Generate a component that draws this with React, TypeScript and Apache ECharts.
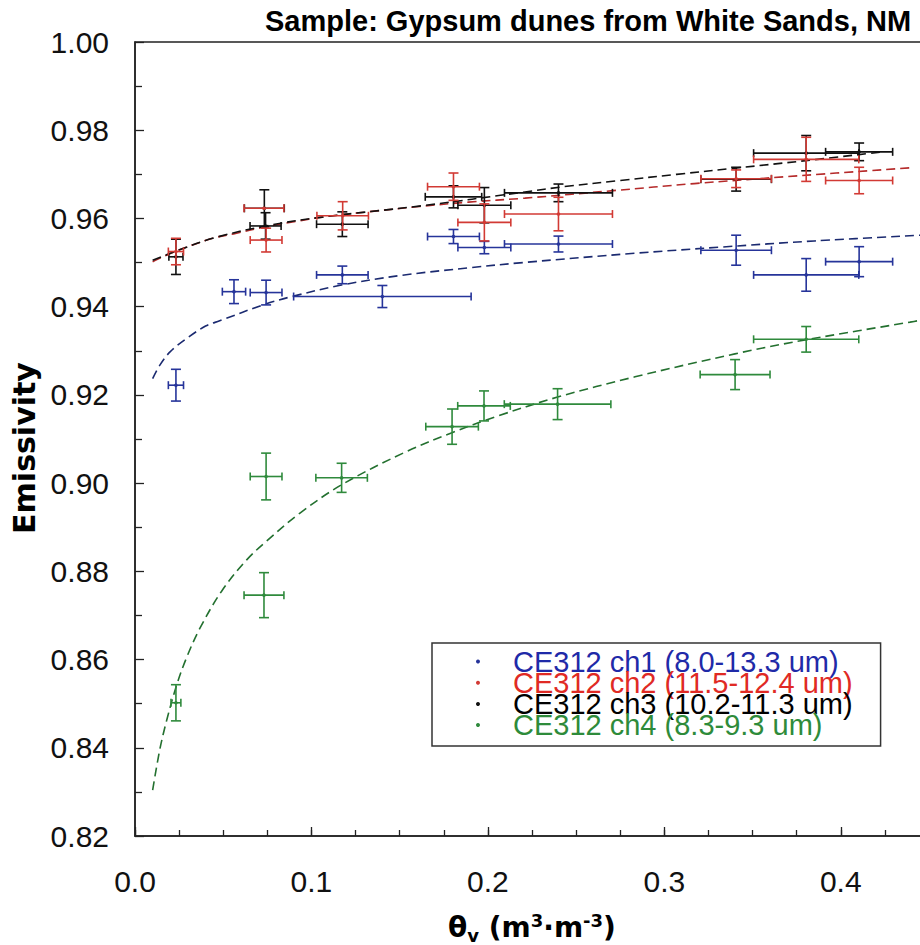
import React, { useEffect, useRef } from "react";
import * as echarts from "echarts";

const seriesNames = [
  "CE312 ch1 (8.0-13.3 um)",
  "CE312 ch2 (11.5-12.4 um)",
  "CE312 ch3 (10.2-11.3 um)",
  "CE312 ch4 (8.3-9.3 um)",
];
const seriesColors = ["#26349a", "#d23a34", "#111111", "#2f8a3c"];
const legendTextColors = ["#1f2aa8", "#e02a24", "#000000", "#2e8b3a"];
const fitColors = ["#1b2a70", "#b52a2a", "#111111", "#23702f"];

// [theta_v, emissivity, x error, y error]
const ch1Points = [
  [0.0232, 0.9222, 0.0043, 0.0036],
  [0.0561, 0.9434, 0.0066, 0.0027],
  [0.0743, 0.9432, 0.009, 0.0028],
  [0.1175, 0.9472, 0.0146, 0.002],
  [0.1402, 0.9423, 0.0503, 0.0025],
  [0.1805, 0.9559, 0.0147, 0.0016],
  [0.198, 0.9534, 0.015, 0.0014],
  [0.24, 0.9542, 0.0306, 0.0018],
  [0.3407, 0.9528, 0.02, 0.0034],
  [0.3804, 0.9472, 0.0298, 0.0037],
  [0.4104, 0.9502, 0.019, 0.0034],
];
const ch2Points = [
  [0.0232, 0.9525, 0.0043, 0.003],
  [0.0731, 0.9623, 0.0113, 0.0],
  [0.0743, 0.9551, 0.009, 0.0027],
  [0.1177, 0.9606, 0.0146, 0.0032],
  [0.1805, 0.9672, 0.0147, 0.0031],
  [0.198, 0.9591, 0.015, 0.0042],
  [0.24, 0.961, 0.0306, 0.0038],
  [0.3407, 0.969, 0.02, 0.002],
  [0.3804, 0.9734, 0.0298, 0.005],
  [0.4104, 0.9686, 0.019, 0.003],
];
const ch3Points = [
  [0.0232, 0.9513, 0.004, 0.004],
  [0.0733, 0.9623, 0.0113, 0.0042],
  [0.074, 0.9583, 0.0088, 0.003],
  [0.1175, 0.9587, 0.0146, 0.0028],
  [0.1805, 0.9649, 0.016, 0.0025],
  [0.198, 0.963, 0.015, 0.004],
  [0.24, 0.9658, 0.0306, 0.002],
  [0.3407, 0.9689, 0.02, 0.0027],
  [0.3804, 0.9748, 0.0298, 0.004],
  [0.4104, 0.9751, 0.019, 0.002],
];
const ch4Points = [
  [0.0232, 0.8502, 0.0028, 0.0041],
  [0.0731, 0.8746, 0.0113, 0.0051],
  [0.0743, 0.9015, 0.009, 0.0053],
  [0.1171, 0.9012, 0.0146, 0.0033],
  [0.1797, 0.9128, 0.0149, 0.004],
  [0.1978, 0.9175, 0.0149, 0.0034],
  [0.2395, 0.9179, 0.0302, 0.0035],
  [0.3401, 0.9246, 0.0198, 0.0034],
  [0.3804, 0.9326, 0.0298, 0.0029],
];

// fitted curves
const ch1Fit = [
  [0.01, 0.9237], [0.014, 0.9267], [0.02, 0.9298], [0.03, 0.933], [0.04, 0.9356],
  [0.048, 0.9368], [0.074, 0.9406], [0.089, 0.9423], [0.117, 0.9449], [0.151, 0.9471],
  [0.189, 0.9488], [0.22, 0.95], [0.283, 0.9521], [0.332, 0.9535], [0.385, 0.9549],
  [0.445, 0.9562],
];
const ch2Fit = [
  [0.01, 0.9502], [0.024, 0.9527], [0.044, 0.9555], [0.057, 0.9566], [0.074, 0.9581],
  [0.091, 0.9593], [0.106, 0.9603], [0.132, 0.9615], [0.161, 0.9627], [0.189, 0.9637],
  [0.221, 0.9646], [0.271, 0.9663], [0.317, 0.9679], [0.37, 0.9695], [0.44, 0.9715],
];
const ch3Fit = [
  [0.01, 0.9505], [0.024, 0.9527], [0.044, 0.9555], [0.074, 0.9583], [0.106, 0.9603],
  [0.161, 0.9628], [0.221, 0.966], [0.243, 0.9672], [0.275, 0.9686], [0.307, 0.97],
  [0.34, 0.9714], [0.38, 0.9731], [0.424, 0.9751],
];
const ch4Fit = [
  [0.01, 0.8304], [0.014, 0.8395], [0.018, 0.8463], [0.0236, 0.8542], [0.0293, 0.8605],
  [0.0368, 0.8671], [0.0491, 0.8755], [0.0633, 0.8826], [0.0747, 0.8869], [0.0935, 0.8932],
  [0.117, 0.8996], [0.153, 0.907], [0.18, 0.9115], [0.204, 0.915], [0.2395, 0.9195],
  [0.2834, 0.9241], [0.34, 0.9293], [0.379, 0.9324], [0.4393, 0.9365], [0.445, 0.9369],
];

const pointSets = [ch1Points, ch2Points, ch3Points, ch4Points];
const fitSets = [ch1Fit, ch2Fit, ch3Fit, ch4Fit];

const titleText = "Sample: Gypsum dunes from White Sands, NM";
const yAxisTitle = "Emissivity";
const xAxisTitle = "{a|θ}{sub|v}{a| (m}{sup|3}{a|·m}{sup|-3}{a|)}";

function makeRender(color: string) {
  return (params: any, api: any) => {
    const x = api.value(0);
    const y = api.value(1);
    const xe = api.value(2);
    const ye = api.value(3);
    const c = api.coord([x, y]);
    const l = api.coord([x - xe, y]);
    const r = api.coord([x + xe, y]);
    const t = api.coord([x, y + ye]);
    const b = api.coord([x, y - ye]);
    const style = { stroke: color, lineWidth: 1.6, fill: "none" };
    const children: any[] = [];
    if (xe > 0) {
      children.push({ type: "line", shape: { x1: l[0], y1: c[1], x2: r[0], y2: c[1] }, style });
      children.push({ type: "line", shape: { x1: l[0], y1: c[1] - 4, x2: l[0], y2: c[1] + 4 }, style });
      children.push({ type: "line", shape: { x1: r[0], y1: c[1] - 4, x2: r[0], y2: c[1] + 4 }, style });
    }
    if (ye > 0) {
      children.push({ type: "line", shape: { x1: c[0], y1: t[1], x2: c[0], y2: b[1] }, style });
      children.push({ type: "line", shape: { x1: c[0] - 5, y1: t[1], x2: c[0] + 5, y2: t[1] }, style });
      children.push({ type: "line", shape: { x1: c[0] - 5, y1: b[1], x2: c[0] + 5, y2: b[1] }, style });
    }
    children.push({ type: "circle", shape: { cx: c[0], cy: c[1], r: 1.8 }, style: { fill: color } });
    return { type: "group", children };
  };
}

export default function App() {
  const ref = useRef<HTMLDivElement>(null);
  useEffect(() => {
    const chart = echarts.init(ref.current!, null, { renderer: "svg" });
    const axisColor = "#222";
    const drawOrder = [0, 2, 1, 3];
    const fitSeries = fitSets.map((d, i) => ({
      type: "line",
      name: "fit" + (i + 1),
      data: d,
      smooth: 0.35,
      symbol: "none",
      silent: true,
      z: 2,
      lineStyle: { type: [9, 5], width: 1.6, color: fitColors[i] },
    }));
    const pointSeries = drawOrder.map((i, k) => ({
      type: "custom",
      name: seriesNames[i],
      data: pointSets[i],
      encode: { x: 0, y: 1 },
      renderItem: makeRender(seriesColors[i]),
      itemStyle: { color: seriesColors[i] },
      z: 3 + k,
    }));
    chart.setOption({
      animation: false,
      backgroundColor: "#fff",
      title: {
        text: titleText,
        left: 265,
        top: 6,
        padding: 0,
        textStyle: { fontFamily: "Liberation Sans", fontWeight: "bold", fontSize: 29, color: "#000" },
      },
      legend: {
        orient: "vertical",
        left: 432,
        top: 643,
        padding: [4, 28, 6.5, 44],
        itemGap: -7.8,
        itemWidth: 60,
        itemHeight: 4,
        icon: "circle",
        borderColor: "#333",
        borderWidth: 1.5,
        backgroundColor: "#fff",
        selectedMode: false,
        textStyle: { fontFamily: "Liberation Sans", fontSize: 29 },
        data: seriesNames.map((n, i) => ({
          name: n,
          itemStyle: { color: seriesColors[i] },
          textStyle: { color: legendTextColors[i] },
        })),
      },
      grid: {
        left: 135,
        right: 0,
        top: 42,
        bottom: 109,
        outerBoundsMode: "none",
        containLabel: false,
        show: true,
        borderColor: axisColor,
        borderWidth: 1.5,
        backgroundColor: "transparent",
      },
      xAxis: [
        {
          type: "value",
          min: 0,
          max: 0.45,
          interval: 0.1,
          position: "bottom",
          axisLine: { show: true, lineStyle: { color: axisColor, width: 1.5 } },
          axisTick: { show: true, inside: true, length: 9, lineStyle: { color: axisColor, width: 1.3 } },
          splitLine: { show: false },
          axisLabel: {
            fontFamily: "Liberation Sans",
            fontSize: 30,
            color: "#111",
            margin: 30,
            showMaxLabel: false,
            formatter: (v: number) => (Math.abs(v * 10 - Math.round(v * 10)) < 1e-6 ? v.toFixed(1) : ""),
          },
          name: xAxisTitle,
          nameLocation: "middle",
          nameGap: 75,
          nameTextStyle: {
            lineHeight: 33,
            rich: {
              a: { fontFamily: "DejaVu Sans", fontWeight: "bold", fontSize: 28, color: "#000" },
              sub: { fontFamily: "DejaVu Sans", fontWeight: "bold", fontSize: 18, color: "#000", verticalAlign: "bottom" },
              sup: { fontFamily: "DejaVu Sans", fontWeight: "bold", fontSize: 18, color: "#000", verticalAlign: "top" },
            },
          },
        },
        {
          type: "value",
          min: 0,
          max: 0.45,
          interval: 0.025,
          position: "bottom",
          axisLine: { show: false },
          axisTick: { show: true, inside: true, length: 6, lineStyle: { color: axisColor, width: 1.3 } },
          axisLabel: { show: false },
          splitLine: { show: false },
        },
      ],
      yAxis: {
        type: "value",
        min: 0.82,
        max: 1.0,
        interval: 0.02,
        axisLine: { show: true, lineStyle: { color: axisColor, width: 1.5 } },
        axisTick: { show: true, inside: true, length: 9, lineStyle: { color: axisColor, width: 1.3 } },
        minorTick: { show: true, splitNumber: 2, length: 7, lineStyle: { color: axisColor, width: 1.3 } },
        splitLine: { show: false },
        axisLabel: {
          fontFamily: "Liberation Sans",
          fontSize: 30,
          color: "#111",
          margin: 26,
          formatter: (v: number) => v.toFixed(2),
        },
        name: yAxisTitle,
        nameLocation: "middle",
        nameRotate: 90,
        nameGap: 92,
        nameTextStyle: {
          fontFamily: "DejaVu Sans",
          fontWeight: "bold",
          fontSize: 30,
          color: "#000",
          padding: [0, 18, 0, 0],
        },
      },
      series: [...fitSeries, ...pointSeries],
    });
    return () => chart.dispose();
  }, []);
  return (
    <div style={{ position: "absolute", left: 0, top: 0, width: 920, height: 945, overflow: "hidden", background: "#fff" }}>
      <div ref={ref} style={{ width: 929, height: 945 }} />
    </div>
  );
}
